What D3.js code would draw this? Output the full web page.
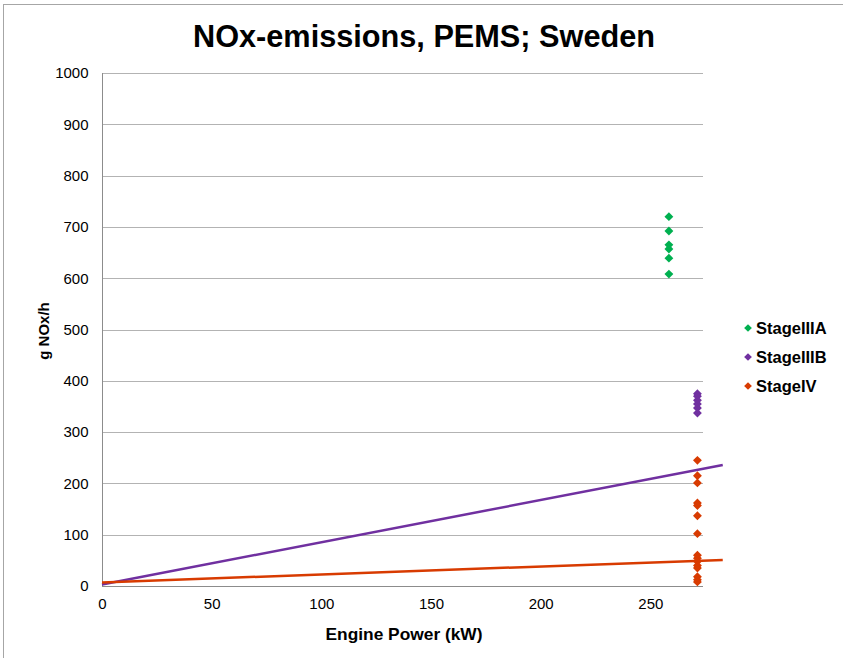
<!DOCTYPE html>
<html><head><meta charset="utf-8">
<script src="https://cdn.jsdelivr.net/npm/d3@7"></script>
<style>
html,body{margin:0;padding:0;background:#fff;}
svg{display:block;font-family:"Liberation Sans",Arial,sans-serif;}
</style></head>
<body>
<svg id="chart" width="843" height="658"></svg>
<script>
// ---- data ----
const seriesNames = ["StageIIIA", "StageIIIB", "StageIV"];
const seriesColors = ["#00b050", "#7030a0", "#d83b01"];
const stageIIIA_x = [258, 258, 258, 258, 258, 258];
const stageIIIA_y = [720, 692, 665, 657, 639, 608];
const stageIIIB_x = [271, 271, 271, 271, 271, 271];
const stageIIIB_y = [375, 370, 362, 355, 347, 337];
const stageIV_x = [271, 271, 271, 271, 271, 271, 271, 271, 271, 271, 271, 271, 271, 271, 271];
const stageIV_y = [245, 215, 201, 162, 157, 137, 102, 60, 54, 48, 40, 35, 18, 12, 8];
// linear trendlines (intercept, slope) for StageIIIB and StageIV, drawn 0..283 kW
const trendSeries = ["StageIIIB", "StageIV"];
const trendIntercept = [3, 7];
const trendSlope = [0.823, 0.155];
const trendXRange = [0, 283];
const xTicks = [0, 50, 100, 150, 200, 250];
const yTicks = [0, 100, 200, 300, 400, 500, 600, 700, 800, 900, 1000];
const titleText = "NOx-emissions, PEMS; Sweden";
const xLabel = "Engine Power (kW)";
const yLabel = "g NOx/h";

(function () {
const svg = d3.select("#chart");
// outer border
svg.append("rect").attr("x", 3.5).attr("y", 4.5).attr("width", 900).attr("height", 700)
  .attr("fill", "none").attr("stroke", "#a6a6a6").attr("stroke-width", 1);

const pL = 102, pR = 703, pT = 73, pB = 586;
const x = d3.scaleLinear().domain([0, 274]).range([pL, pR]);
const y = d3.scaleLinear().domain([0, 1000]).range([pB, pT]);

// gridlines
svg.append("g").selectAll("line").data(yTicks.filter(d => d > 0)).join("line")
  .attr("x1", pL).attr("x2", pR)
  .attr("y1", d => Math.round(y(d)) + 0.5).attr("y2", d => Math.round(y(d)) + 0.5)
  .attr("stroke", "#b3b3b3").attr("stroke-width", 1);

// axes
const fmt = d3.format("d");
const yAxis = svg.append("g").attr("transform", `translate(${pL + 0.5},0)`)
  .call(d3.axisLeft(y).tickValues(yTicks).tickFormat(fmt).tickSize(0).tickPadding(14));
const xAxis = svg.append("g").attr("transform", `translate(0,${pB + 0.5})`)
  .call(d3.axisBottom(x).tickValues(xTicks).tickFormat(fmt).tickSize(0).tickPadding(12));
[xAxis, yAxis].forEach(g => {
  g.select(".domain").attr("stroke", "#8c8c8c").attr("stroke-width", 1);
  g.selectAll("text").attr("font-size", 15).attr("fill", "#000")
    .attr("font-family", '"Liberation Sans",Arial,sans-serif');
});
xAxis.select(".domain").attr("d", `M${pL},0H${pR}`);
yAxis.select(".domain").attr("d", `M0,${pB}V${pT}`);

// trendlines
trendSeries.forEach((name, i) => {
  const c = seriesColors[seriesNames.indexOf(name)];
  svg.append("line")
    .attr("x1", x(trendXRange[0])).attr("y1", y(trendIntercept[i] + trendSlope[i] * trendXRange[0]))
    .attr("x2", x(trendXRange[1])).attr("y2", y(trendIntercept[i] + trendSlope[i] * trendXRange[1]))
    .attr("stroke", c).attr("stroke-width", 2.5);
});

// points
const diamond = d3.symbol().type(d3.symbolDiamond2).size(50);
const allSeries = [
  [stageIIIA_x, stageIIIA_y],
  [stageIIIB_x, stageIIIB_y],
  [stageIV_x, stageIV_y]
];
allSeries.forEach(([xs, ys], i) => {
  svg.append("g").selectAll("path").data(ys.map((v, j) => [xs[j], v])).join("path")
    .attr("d", diamond)
    .attr("transform", d => `translate(${x(d[0]) + 1},${y(d[1])})`)
    .attr("fill", seriesColors[i]);
});

// title
svg.append("text").attr("x", 424).attr("y", 47).attr("text-anchor", "middle")
  .attr("font-family", '"Liberation Sans Narrow","Liberation Sans",Arial,sans-serif')
  .attr("font-size", 32).attr("font-weight", "bold")
  .attr("textLength", 462).attr("lengthAdjust", "spacingAndGlyphs").text(titleText);

// axis labels
svg.append("text").attr("x", 404).attr("y", 640).attr("text-anchor", "middle")
  .attr("font-size", 16.5).attr("font-weight", "bold")
  .attr("textLength", 157).attr("lengthAdjust", "spacingAndGlyphs").text(xLabel);
svg.append("text").attr("transform", "translate(49,331) rotate(-90)")
  .attr("text-anchor", "middle").attr("font-size", 15).attr("font-weight", "bold").text(yLabel);

// legend
const legendSym = d3.symbol().type(d3.symbolDiamond2).size(38);
seriesNames.forEach((n, i) => {
  const ly = 328 + i * 29;
  svg.append("path").attr("d", legendSym).attr("transform", `translate(748,${ly})`)
    .attr("fill", seriesColors[i]);
  svg.append("text").attr("x", 756).attr("y", ly + 6).attr("font-size", 16.5)
    .attr("font-weight", "bold").text(n);
});
})();
</script>
</body></html>
